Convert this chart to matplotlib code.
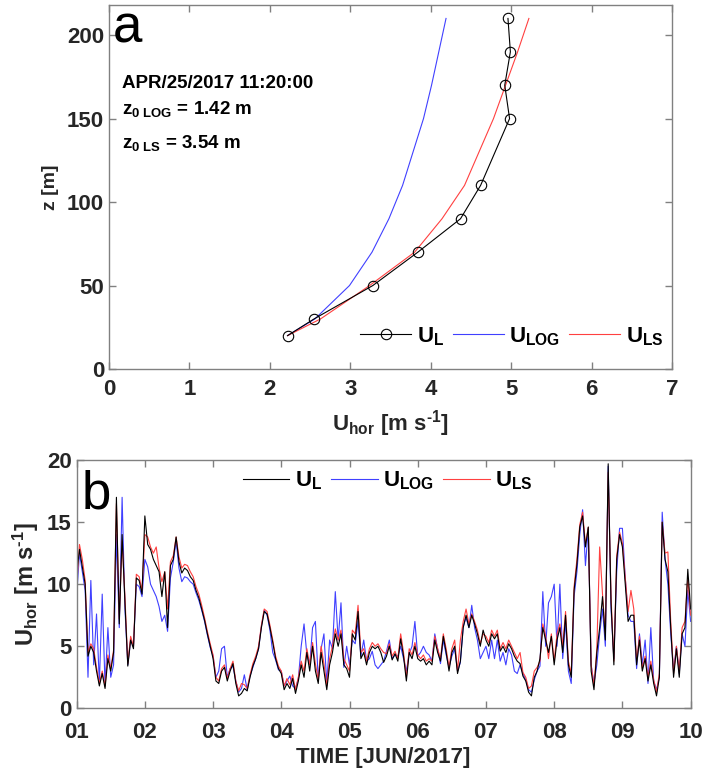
import matplotlib
matplotlib.use('Agg')
import matplotlib.pyplot as plt
import numpy as np

plt.rcParams['font.family'] = ['Liberation Sans', 'DejaVu Sans']
plt.rcParams['font.weight'] = 'bold'
plt.rcParams['axes.labelweight'] = 'bold'
plt.rcParams['mathtext.fontset'] = 'custom'
plt.rcParams['mathtext.rm'] = 'Liberation Sans:bold'
plt.rcParams['mathtext.it'] = 'Liberation Sans:bold'
plt.rcParams['mathtext.bf'] = 'Liberation Sans:bold'

# ---- panel a: vertical profile at one instant ----
z = [20, 30, 50, 70, 90, 110, 150, 170, 190, 210]
u_l = [2.22, 2.55, 3.28, 3.84, 4.37, 4.62, 4.98, 4.92, 4.99, 4.96]
u_log = [2.22, 2.56, 2.99, 3.27, 3.48, 3.65, 3.91, 4.01, 4.10, 4.19]
u_ls = [2.22, 2.63, 3.24, 3.80, 4.14, 4.42, 4.78, 4.93, 5.08, 5.22]
stamp = 'APR/25/2017 11:20:00'
z0_log = 1.42
z0_ls = 3.54

# ---- panel b: hourly series, 01-10 JUN 2017 (one list of 24 per day) ----
days = ['01', '02', '03', '04', '05', '06', '07', '08', '09', '10']
ts_l = [
    [10.8, 12.8, 11.4, 10.0, 4.2, 5.0, 4.5, 3.0, 1.8, 2.8, 1.6, 4.0, 3.0, 4.5, 17.0, 6.8, 14.0, 8.5, 3.4, 5.5, 4.8, 10.5, 10.3, 9.2],
    [15.5, 13.2, 12.8, 12.0, 11.5, 11.0, 9.0, 11.0, 6.5, 11.5, 12.0, 13.8, 11.8, 10.9, 11.3, 11.1, 10.6, 10.3, 9.5, 8.9, 8.0, 7.1, 6.0, 5.0],
    [4.0, 2.2, 2.0, 3.0, 3.3, 2.2, 3.0, 3.6, 2.0, 1.0, 1.2, 1.6, 1.4, 2.5, 3.4, 4.0, 4.8, 6.5, 7.8, 7.6, 6.5, 5.3, 4.0, 3.2],
    [2.8, 1.5, 2.0, 1.6, 2.4, 1.2, 2.2, 3.5, 2.5, 4.5, 3.0, 5.0, 3.0, 2.0, 4.5, 3.0, 1.5, 3.5, 4.5, 6.0, 5.0, 6.0, 3.5, 3.2],
    [2.5, 6.0, 5.5, 7.8, 4.0, 4.5, 3.5, 4.5, 5.0, 4.8, 5.0, 4.5, 3.7, 4.2, 5.0, 3.9, 4.4, 3.8, 5.6, 4.2, 2.2, 4.5, 4.0, 5.0],
    [4.0, 3.8, 4.0, 3.5, 3.8, 3.5, 5.5, 4.5, 3.8, 5.8, 4.5, 3.0, 4.5, 5.0, 2.8, 3.8, 6.5, 7.5, 6.5, 7.5, 6.8, 6.0, 5.0, 6.3],
    [5.5, 5.0, 6.0, 5.6, 6.0, 4.6, 5.0, 4.5, 5.2, 4.8, 4.2, 3.8, 3.6, 2.6, 2.2, 1.3, 1.0, 2.5, 3.0, 4.0, 6.5, 5.5, 4.5, 5.8],
    [3.5, 5.5, 6.5, 4.5, 7.5, 3.5, 2.5, 9.5, 11.6, 14.6, 15.5, 13.0, 14.6, 3.0, 1.5, 4.5, 6.5, 9.0, 5.5, 19.7, 8.5, 3.5, 12.0, 14.0],
    [13.0, 10.0, 7.0, 7.5, 7.5, 3.5, 5.5, 3.0, 4.0, 2.2, 3.5, 2.0, 1.0, 2.5, 15.0, 12.0, 11.0, 6.5, 2.5, 4.8, 2.5, 6.0, 6.5, 11.2],
    [8.0],
]
ts_log = [
    [9.0, 12.5, 11.0, 9.5, 2.5, 10.3, 3.5, 7.6, 2.0, 9.2, 1.8, 6.5, 2.5, 3.5, 14.0, 6.5, 17.0, 8.0, 3.5, 5.5, 5.0, 10.0, 9.8, 9.0],
    [12.0, 11.4, 10.0, 9.5, 9.0, 8.2, 7.0, 7.5, 6.2, 10.5, 11.8, 13.5, 11.3, 10.2, 10.6, 10.5, 10.2, 10.0, 9.3, 8.7, 7.9, 7.0, 5.9, 4.9],
    [4.2, 2.5, 3.0, 4.8, 5.0, 2.5, 3.2, 3.4, 2.2, 1.3, 1.6, 2.7, 1.5, 2.6, 3.3, 4.0, 4.8, 6.6, 7.9, 7.5, 6.3, 4.5, 3.9, 3.1],
    [3.0, 1.8, 2.2, 2.6, 1.8, 1.6, 2.4, 5.0, 6.8, 4.3, 3.5, 6.5, 7.0, 2.3, 4.8, 6.0, 2.0, 5.5, 4.8, 9.4, 5.5, 8.5, 3.3, 5.0],
    [3.5, 5.5, 5.2, 7.0, 4.2, 5.5, 3.8, 4.0, 4.6, 3.5, 3.2, 3.5, 3.8, 4.6, 5.5, 4.0, 4.3, 4.2, 5.0, 4.0, 3.0, 4.4, 5.0, 7.0],
    [4.2, 4.5, 5.0, 4.5, 4.3, 3.8, 6.0, 4.8, 3.6, 5.5, 4.3, 3.3, 4.2, 4.8, 3.0, 3.7, 6.6, 7.3, 6.5, 8.3, 6.5, 5.5, 4.0, 4.5],
    [5.0, 4.0, 5.5, 4.0, 5.5, 3.8, 4.5, 3.5, 4.8, 4.3, 3.0, 2.8, 3.5, 2.8, 2.3, 1.5, 1.3, 2.3, 3.0, 3.4, 9.4, 5.0, 8.5, 9.0],
    [10.0, 5.0, 10.0, 4.0, 7.0, 3.0, 2.0, 9.0, 11.0, 14.0, 16.0, 11.5, 14.5, 3.5, 2.0, 3.5, 6.0, 8.0, 5.0, 19.5, 8.0, 4.0, 11.0, 14.5],
    [14.5, 10.5, 7.5, 7.0, 7.0, 3.2, 6.0, 3.5, 5.5, 2.0, 6.5, 2.2, 1.5, 2.5, 15.8, 12.0, 10.0, 6.0, 3.0, 5.0, 2.8, 6.0, 5.0, 9.5],
    [7.0],
]
ts_ls = [
    [9.8, 13.2, 12.0, 10.3, 4.5, 5.2, 4.8, 3.3, 2.0, 3.0, 1.8, 4.3, 3.2, 4.7, 16.5, 7.2, 13.5, 9.0, 3.6, 5.8, 5.0, 10.8, 10.6, 9.5],
    [14.0, 13.8, 13.0, 12.5, 13.0, 11.3, 10.2, 11.0, 8.0, 11.8, 12.3, 13.8, 12.2, 11.3, 11.6, 11.5, 11.0, 10.6, 9.8, 9.2, 8.3, 7.3, 6.2, 5.2],
    [4.3, 2.5, 2.2, 3.2, 3.5, 2.4, 3.2, 3.8, 2.2, 1.4, 2.0, 1.9, 1.6, 2.7, 3.6, 4.2, 5.0, 6.7, 8.0, 7.8, 6.7, 5.5, 4.2, 3.4],
    [3.0, 1.8, 2.4, 1.9, 2.7, 1.5, 2.5, 3.8, 3.0, 4.8, 3.5, 5.3, 3.6, 2.3, 5.0, 3.6, 1.8, 4.0, 5.0, 6.4, 5.5, 6.3, 4.0, 3.5],
    [3.0, 6.3, 6.0, 8.3, 4.5, 4.8, 3.8, 4.8, 5.3, 5.0, 5.2, 4.8, 4.5, 4.4, 5.2, 4.2, 4.6, 4.0, 6.0, 4.5, 2.5, 4.8, 4.3, 5.3],
    [4.3, 4.0, 4.3, 3.8, 4.0, 3.8, 5.8, 4.8, 4.0, 6.0, 4.8, 3.3, 4.8, 5.5, 3.0, 5.5, 7.0, 8.0, 6.8, 7.6, 7.0, 6.3, 5.2, 6.0],
    [5.8, 5.3, 6.3, 5.8, 6.3, 4.8, 5.3, 4.8, 5.5, 5.0, 4.5, 4.0, 4.5, 2.9, 2.5, 1.6, 1.8, 3.0, 3.3, 3.8, 6.8, 5.8, 4.0, 6.0],
    [3.8, 6.0, 6.8, 5.0, 7.8, 3.8, 2.8, 9.8, 12.0, 14.8, 15.8, 13.2, 14.6, 3.5, 1.8, 4.8, 13.0, 9.2, 6.0, 19.0, 9.0, 3.8, 12.3, 14.2],
    [13.3, 10.5, 7.8, 9.5, 8.0, 3.8, 5.8, 3.2, 4.2, 2.5, 3.8, 2.3, 1.3, 2.8, 15.0, 12.5, 12.6, 7.0, 2.8, 5.0, 3.0, 6.5, 7.0, 10.5],
    [7.5],
]

sl = np.concatenate(ts_l)
slog = np.concatenate(ts_log)
sls = np.concatenate(ts_ls)
t = 1 + np.arange(len(sl)) / 24.0

spine_c = '0.5'
txt_c = '#262626'
blue = '#4040ff'
red = '#ff4040'
uhor = r'U$_{\rm hor}$ [m s$^{\text{-}\rm 1}$]'


def style_axes(ax, xpad=6):
    for s in ax.spines.values():
        s.set_color(spine_c)
        s.set_linewidth(1.0)
    ax.tick_params(direction='in', length=5, width=1, color=spine_c,
                   top=True, right=True, labelsize=16, labelcolor=txt_c)
    ax.tick_params(axis='x', pad=xpad)
    for lab in ax.get_xticklabels() + ax.get_yticklabels():
        lab.set_fontweight('bold')


fig = plt.figure(figsize=(7.03, 7.71), dpi=100)

# top panel
ax1 = fig.add_axes([0.155, 0.5214, 0.801, 0.472])
h1, = ax1.plot(u_l, z, color='k', lw=0.8, marker='o', ms=7.5,
               mfc='none', mec='k', mew=0.8, label=r'U$_{\rm L}$', zorder=3)
h2, = ax1.plot(u_log, z, color=blue, lw=0.8, label=r'U$_{\rm LOG}$')
h3, = ax1.plot(u_ls, z, color=red, lw=0.8, label=r'U$_{\rm LS}$')
ax1.set_xlim(0, 7)
ax1.set_ylim(0, 218)
ax1.set_xticks(range(0, 8))
ax1.set_yticks(range(0, 201, 50))
style_axes(ax1, xpad=7)
ax1.set_xlabel(uhor, fontsize=16, color=txt_c, labelpad=6)
ax1.set_ylabel('z [m]', fontsize=14, color=txt_c, labelpad=6)
ax1.text(0.007, 0.896, 'a', transform=ax1.transAxes, fontsize=38,
         fontweight='normal', color='k', va='baseline')
ax1.text(0.023, 0.771, stamp, transform=ax1.transAxes, fontsize=13.5,
         color='k', va='baseline')
ax1.text(0.023, 0.702, r'z$_{\rm 0\ LOG}$ = %.2f m' % z0_log, transform=ax1.transAxes,
         fontsize=13.5, color='k', va='baseline')
ax1.text(0.023, 0.606, r'z$_{\rm 0\ LS}$ = %.2f m' % z0_ls, transform=ax1.transAxes,
         fontsize=13.5, color='k', va='baseline')
ax1.legend(handles=[h1, h2, h3], loc='center right', bbox_to_anchor=(0.985, 0.09),
           ncol=3, frameon=False, fontsize=16, handlelength=2.3,
           handletextpad=0.25, columnspacing=0.4, borderaxespad=0, borderpad=0)

# bottom panel
ax2 = fig.add_axes([0.109, 0.0813, 0.8734, 0.322])
g2, = ax2.plot(t, slog, color=blue, lw=0.8, label=r'U$_{\rm LOG}$')
g3, = ax2.plot(t, sls, color=red, lw=0.8, label=r'U$_{\rm LS}$')
g1, = ax2.plot(t, sl, color='k', lw=0.8, label=r'U$_{\rm L}$')
ax2.set_xlim(1, 10)
ax2.set_ylim(0, 20)
ax2.set_xticks(range(1, 11))
ax2.set_xticklabels(days)
ax2.set_yticks(range(0, 21, 5))
style_axes(ax2, xpad=10)
ax2.set_xlabel('TIME [JUN/2017]', fontsize=16, color=txt_c, labelpad=3)
ax2.set_ylabel(uhor, fontsize=17, color=txt_c, labelpad=4)
ax2.text(0.008, 0.805, 'b', transform=ax2.transAxes, fontsize=38,
         fontweight='normal', color='k', va='baseline')
ax2.legend(handles=[g1, g2, g3], loc='center', bbox_to_anchor=(0.507, 0.915),
           ncol=3, frameon=False, fontsize=16, handlelength=2.1,
           handletextpad=0.25, columnspacing=0.4, borderaxespad=0, borderpad=0)

fig.savefig('out.png', dpi=100)
